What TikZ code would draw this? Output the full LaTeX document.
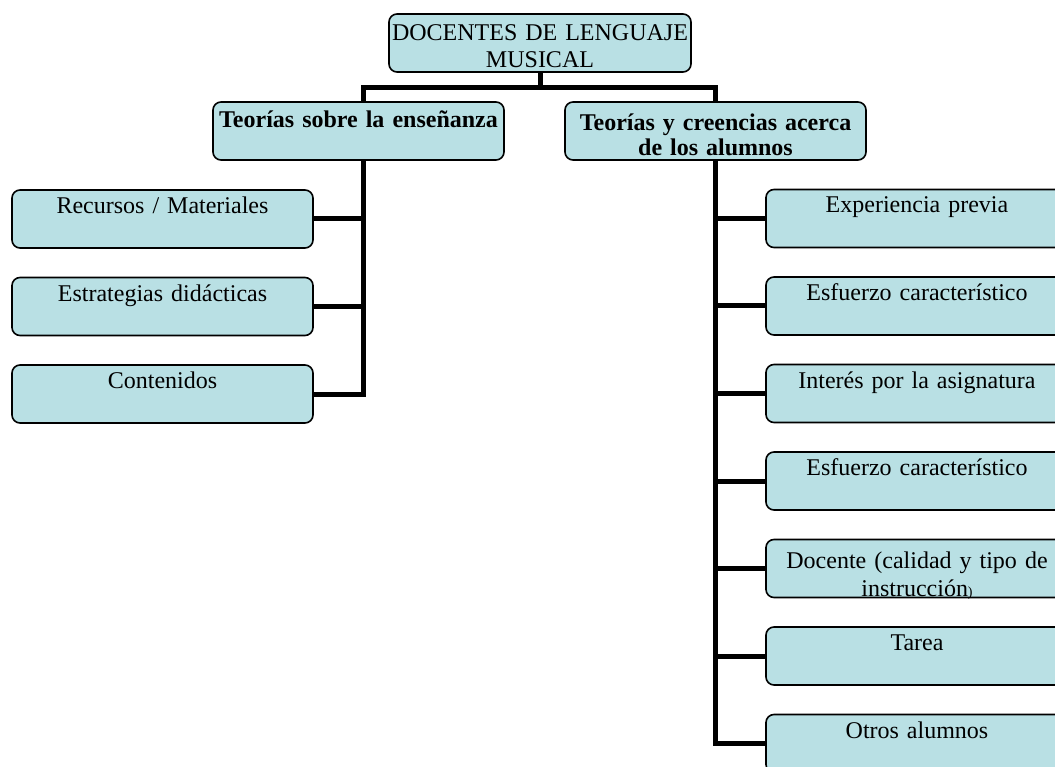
\documentclass[tikz,border=0pt]{standalone}
\usepackage{fontspec}
\setmainfont{Liberation Serif}
\usepackage{xcolor}
\usepackage{tikz}
\usetikzlibrary{positioning,backgrounds}
\definecolor{BoxAqua}{RGB}{185,224,228}
% pull the text block down inside its box
\newcommand{\sinkby}[1]{\par\kern-#1}

\tikzset{
  mapbox/.style={draw=black, line width=1.6pt, fill=BoxAqua,
                 rounded corners=8pt, align=center, inner sep=1pt,
                 minimum height=58pt, font=\fontsize{24}{27.5}\selectfont},
  trunk/.style={line width=5pt, draw=black, line join=miter}
}

\begin{document}
\begin{tikzpicture}[x=1pt, y=-1pt]
      \useasboundingbox (0,0) rectangle (1055,767);
      % Root
      \node[mapbox, text width=302pt, inner sep=0pt] (root) at (540,43)
        {DOCENTES DE LENGUAJE\\MUSICAL\sinkby{6pt}};
      % Second level
      \node[mapbox, text width=289pt, font=\bfseries\fontsize{24}{27.5}\selectfont]
        (ense) at (358.5,131) {Teorías sobre la enseñanza\\\mbox{}\sinkby{4pt}};
      \node[mapbox, text width=299pt, font=\bfseries\fontsize{24}{25.5}\selectfont]
        (alum) at (715.5,131) {Teorías y creencias acerca\\de los alumnos\sinkby{8pt}};
      % Left leaves
      \node[mapbox, text width=299pt] (recu) at (162.5,219)   {Recursos / Materiales\\\mbox{}};
      \node[mapbox, text width=299pt] (estr) at (162.5,306.5) {Estrategias didácticas\\\mbox{}};
      \node[mapbox, text width=299pt] (cont) at (162.5,394)   {Contenidos\\\mbox{}};
      % Right leaves
      \node[mapbox, text width=300pt] (expe) at (917,218.5) {Experiencia previa\\\mbox{}};
      \node[mapbox, text width=300pt] (esfa) at (917,306)   {Esfuerzo característico\\\mbox{}};
      \node[mapbox, text width=300pt] (inte) at (917,393.5) {Interés por la asignatura\\\mbox{}};
      \node[mapbox, text width=300pt] (esfb) at (917,481)   {Esfuerzo característico\\\mbox{}};
      \node[mapbox, text width=300pt] (doce) at (917,568.5)
        {Docente (calidad y tipo de\\instrucción{\fontsize{14}{14}\selectfont)}\sinkby{14pt}};
      \node[mapbox, text width=300pt] (tare) at (917,656)   {Tarea\\\mbox{}};
      \node[mapbox, text width=300pt] (otro) at (917,743.5) {Otros alumnos\\\mbox{}};
      % Connectors
      \coordinate (hl) at (363,88);
      \coordinate (hr) at (715.5,88);
      \begin{scope}[on background layer]
        \draw[trunk] (root.south) -- (root.south |- hl);
        \draw[trunk] (cont.east) -| (hl) -- (hr) |- (otro.west);
        \foreach \leaf in {recu,estr}
          \draw[trunk] (\leaf.east) -- (\leaf.east -| hl);
        \foreach \leaf in {expe,esfa,inte,esfb,doce,tare}
          \draw[trunk] (\leaf.west) -- (\leaf.west -| hr);
      \end{scope}
    \end{tikzpicture}
\end{document}
